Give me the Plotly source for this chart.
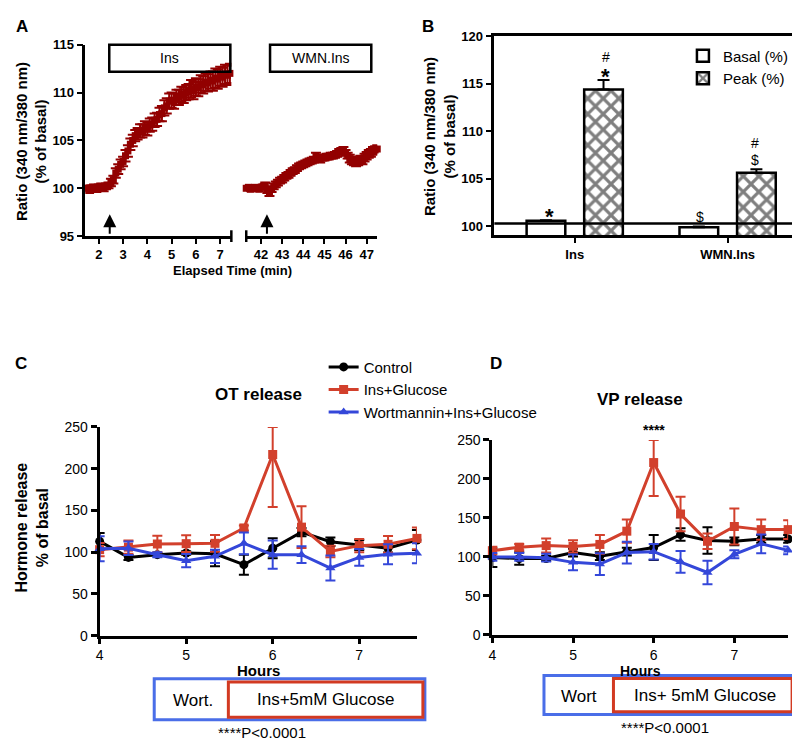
import plotly.graph_objects as go

# ---------------- Panel A: ratio time course ----------------
ins_start, ins_step = 1.5, 0.1
ins_ratio = [100.0, 99.8, 100.0, 100.1, 99.9, 100.1, 100.2, 100.0, 100.2, 100.3,
             100.6, 100.9, 101.6, 102.0, 102.5, 102.8, 103.4, 103.9, 104.6, 105.0,
             105.5, 105.7, 106.0, 106.0, 106.3, 106.2, 106.6, 106.7, 107.1, 107.2,
             107.7, 107.8, 108.4, 108.6, 109.1, 109.2, 109.1, 109.5, 109.5, 109.8,
             109.7, 110.0, 110.1, 110.4, 110.2, 110.6, 110.5, 110.9, 110.8, 111.1,
             111.0, 111.3, 111.2, 111.5, 111.4, 111.7, 111.6, 111.9, 111.8, 112.0]
ins_sem = [0.3, 0.3, 0.3, 0.3, 0.3, 0.3, 0.3, 0.3, 0.3, 0.3,
           0.4, 0.4, 0.5, 0.5, 0.5, 0.5, 0.6, 0.6, 0.6, 0.6,
           0.6, 0.6, 0.7, 0.7, 0.7, 0.7, 0.7, 0.7, 0.7, 0.7,
           0.7, 0.8, 0.8, 0.8, 0.8, 0.8, 0.8, 0.8, 0.8, 0.8,
           0.8, 0.8, 0.8, 0.9, 0.9, 0.9, 0.9, 0.9, 0.9, 0.9,
           0.9, 0.9, 1.0, 1.0, 1.0, 1.0, 1.0, 1.0, 1.0, 1.0]
wmn_start, wmn_step = 41.3, 0.1
wmn_ratio = [100.0, 100.1, 99.9, 100.0, 100.1, 100.0, 99.9, 100.1, 100.2,
             100.3, 99.8, 99.6, 99.9, 100.2, 100.4, 100.6, 100.8, 100.9, 101.1,
             101.3, 101.4, 101.6, 101.8, 101.9, 102.1, 102.3, 102.4, 102.5, 102.6,
             102.7, 102.8, 102.9, 103.0, 103.4, 103.1, 103.0, 103.2, 103.2, 103.3,
             103.3, 103.4, 103.4, 103.5, 103.6, 103.8, 103.9, 104.0, 103.7, 103.4,
             103.1, 102.9, 102.8, 102.7, 102.8, 103.0, 102.9, 103.2, 103.4, 103.6,
             103.7, 103.9, 104.0, 104.1]
wmn_sem = [0.2, 0.2, 0.2, 0.2, 0.2, 0.2, 0.2, 0.2, 0.2,
           0.3, 0.3, 0.4, 0.3, 0.3, 0.3, 0.3, 0.3, 0.3, 0.3,
           0.3, 0.3, 0.3, 0.3, 0.3, 0.3, 0.3, 0.3, 0.3, 0.3,
           0.3, 0.3, 0.3, 0.3, 0.3, 0.3, 0.3, 0.3, 0.3, 0.3,
           0.3, 0.3, 0.3, 0.3, 0.3, 0.3, 0.3, 0.3, 0.3, 0.3,
           0.4, 0.4, 0.4, 0.4, 0.4, 0.4, 0.4, 0.4, 0.4, 0.4,
           0.4, 0.4, 0.4, 0.4]
a_left_ticks = [2, 3, 4, 5, 6, 7]
a_right_ticks = [42, 43, 44, 45, 46, 47]
a_y_ticks = [95, 100, 105, 110, 115]

# ---------------- Panel B: bars ----------------
b_groups = ["Ins", "WMN.Ins"]
b_basal = [100.6, 99.9]
b_basal_err = [0.05, 0.08]
b_peak = [114.4, 105.65]
b_peak_err = [1.0, 0.35]
b_y_ticks = [100, 105, 110, 115, 120]

# ---------------- Panels C / D: hormone release ----------------
hours = [4.0, 4.333, 4.667, 5.0, 5.333, 5.667, 6.0, 6.333, 6.667, 7.0, 7.333, 7.667]
ot_control = [113.0, 93.7, 97.0, 99.0, 98.0, 85.0, 104.7, 124.0, 112.5, 108.6, 104.7, 114.5]
ot_control_sem = [10, 3, 2, 2, 15, 12, 12, 5, 5, 6, 5, 12]
ot_ins = [103.0, 106.0, 109.8, 110.2, 110.6, 129.0, 217.0, 130.0, 100.8, 107.8, 109.4, 116.5]
ot_ins_sem = [8, 8, 10, 10, 10, 3, 63, 25, 7, 8, 10, 13]
ot_wort = [104.0, 104.7, 97.0, 89.8, 95.0, 110.6, 97.0, 97.0, 81.0, 93.7, 97.6, 98.8]
ot_wort_sem = [15, 8, 3, 8, 8, 13, 17, 10, 15, 10, 12, 12]

vp_control = [99.2, 98.0, 98.0, 105.5, 101.0, 106.7, 112.0, 128.6, 121.0, 120.0, 123.0, 123.0]
vp_control_sem = [12, 8, 3, 5, 5, 5, 16, 8, 17, 5, 5, 5]
vp_ins = [108.0, 112.5, 114.5, 113.5, 116.0, 133.0, 221.0, 155.0, 120.0, 139.0, 135.0, 135.0]
vp_ins_sem = [5, 4, 9, 8, 12, 15, 43, 22, 10, 23, 13, 12]
vp_wort = [100.0, 100.0, 99.0, 93.0, 90.8, 105.5, 106.7, 93.7, 80.0, 103.4, 116.8, 108.4]
vp_wort_sem = [5, 5, 5, 10, 14, 14, 10, 14, 15, 5, 12, 5]
cd_x_ticks = [4, 5, 6, 7]
cd_y_ticks = [0, 50, 100, 150, 200, 250]
cd_ymax = 250

W, H = 800, 742
def px(x):
    return x / W
def py(y):
    return 1 - y / H

DARKRED = "#920000"
RED = "#d2402c"
BLUE = "#3447d9"
BOX_BLUE = "#4a6ee8"
BOX_RED = "#d23a22"
FONT = "Liberation Sans, Arial, sans-serif"
NARROW = "Liberation Sans Narrow, Arial Narrow, Liberation Sans, Arial, sans-serif"

fig = go.Figure()

ins_time = [round(ins_start + ins_step * i, 2) for i in range(len(ins_ratio))]
wmn_time = [round(wmn_start + wmn_step * i, 2) for i in range(len(wmn_ratio))]

for t, v, e, xa in [(ins_time, ins_ratio, ins_sem, "x"), (wmn_time, wmn_ratio, wmn_sem, "x2")]:
    fig.add_trace(go.Scatter(
        x=t, y=v, mode="lines+markers", xaxis=xa, yaxis="y",
        line=dict(color=DARKRED, width=3),
        marker=dict(symbol="square", size=7, color=DARKRED),
        error_y=dict(type="data", array=e, color=DARKRED, thickness=2, width=5),
        showlegend=False, cliponaxis=False))

# Panel B bars
fig.add_trace(go.Bar(
    x=[0, 1], y=b_basal, width=0.253, offset=-0.315, xaxis="x3", yaxis="y3",
    name="Basal (%)", legend="legend2",
    marker=dict(color="white", line=dict(color="black", width=2.5)),
    error_y=dict(type="data", array=b_basal_err, arrayminus=[0, 0], symmetric=False,
                 color="black", thickness=2, width=6)))
fig.add_trace(go.Bar(
    x=[0, 1], y=b_peak, width=0.253, offset=0.0615, xaxis="x3", yaxis="y3",
    name="Peak (%)", legend="legend2",
    marker=dict(color="white", line=dict(color="black", width=2.5),
                pattern=dict(shape="x", fgcolor="black", bgcolor="white", size=11, solidity=0.5)),
    error_y=dict(type="data", array=b_peak_err, arrayminus=[0, 0], symmetric=False,
                 color="black", thickness=2, width=6)))

def clip_err(vals, errs):
    return [min(e, cd_ymax - v) for v, e in zip(vals, errs)]

series_c = [("Control", ot_control, ot_control_sem, "black", "circle"),
            ("Ins+Glucose", ot_ins, ot_ins_sem, RED, "square"),
            ("Wortmannin+Ins+Glucose", ot_wort, ot_wort_sem, BLUE, "triangle-up")]
series_d = [("Control", vp_control, vp_control_sem, "black", "circle"),
            ("Ins+Glucose", vp_ins, vp_ins_sem, RED, "square"),
            ("Wortmannin+Ins+Glucose", vp_wort, vp_wort_sem, BLUE, "triangle-up")]
for series, xa, ya, show in [(series_c, "x4", "y4", True), (series_d, "x5", "y5", False)]:
    for name, vals, errs, col, sym in series:
        fig.add_trace(go.Scatter(
            x=hours, y=vals, mode="lines+markers", name=name, xaxis=xa, yaxis=ya,
            line=dict(color=col, width=3), marker=dict(symbol=sym, size=9, color=col),
            error_y=dict(type="data", symmetric=False, array=clip_err(vals, errs),
                         arrayminus=errs, color=col, thickness=2, width=5),
            showlegend=show, legend="legend", cliponaxis=False))

tick_bold = dict(family=FONT, size=13, color="black", weight="bold")
tick_narrow = dict(family=NARROW, size=14, color="black")
common = dict(showgrid=False, zeroline=False, showline=True, linecolor="black",
              ticks="outside", tickcolor="black")

fig.update_layout(
    width=W, height=H, margin=dict(l=0, r=0, t=0, b=0),
    paper_bgcolor="white", plot_bgcolor="rgba(0,0,0,0)",
    font=dict(family=FONT, color="black"), barmode="overlay",
    xaxis=dict(domain=[px(74), px(221)], range=[1.45, 7.46], anchor="y",
               tickvals=a_left_ticks, tickfont=tick_bold, linewidth=2.5, tickwidth=2, ticklen=5, **common),
    xaxis2=dict(domain=[px(236), px(368)], range=[41.3, 47.5], anchor="y",
                tickvals=a_right_ticks, tickfont=tick_bold, linewidth=2.5, tickwidth=2, ticklen=5, **common),
    yaxis=dict(domain=[py(225), py(29.3)], range=[95, 115], anchor="x",
               tickvals=a_y_ticks, tickfont=tick_bold, linewidth=2.5, tickwidth=2, ticklen=6, **common),
    xaxis3=dict(domain=[px(486), px(799)], range=[-0.526, 1.506], anchor="y3",
                tickvals=[0, 1], ticktext=b_groups, tickfont=tick_bold, mirror=True,
                linewidth=2.5, tickwidth=2, ticklen=5, **common),
    yaxis3=dict(domain=[py(224), py(20.7)], range=[99.07, 120], anchor="x3",
                tickvals=b_y_ticks, tickfont=tick_bold, mirror=True,
                linewidth=2.5, tickwidth=2, ticklen=6, **common),
    xaxis4=dict(domain=[px(88.3), px(408)], range=[4, 7.667], anchor="y4",
                tickvals=cd_x_ticks, tickfont=tick_narrow, linewidth=3, tickwidth=2.5, ticklen=5, **common),
    yaxis4=dict(domain=[py(633.3), py(420)], range=[0, 250], anchor="x4",
                tickvals=cd_y_ticks, tickfont=tick_narrow, linewidth=3, tickwidth=2.5, ticklen=6, **common),
    xaxis5=dict(domain=[px(484), px(782)], range=[4, 7.667], anchor="y5",
                tickvals=cd_x_ticks, tickfont=tick_narrow, linewidth=3, tickwidth=2.5, ticklen=5, **common),
    yaxis5=dict(domain=[py(632.5), py(433.3)], range=[0, 250], anchor="x5",
                tickvals=cd_y_ticks, tickfont=tick_narrow, linewidth=3, tickwidth=2.5, ticklen=6, **common),
    legend=dict(x=px(314), y=py(342), xanchor="left", yanchor="top",
                font=dict(family=FONT, size=15, color="black"), bgcolor="rgba(0,0,0,0)",
                tracegroupgap=0, itemwidth=30),
    legend2=dict(x=px(676), y=py(24), xanchor="left", yanchor="top",
                 font=dict(family=FONT, size=15, color="black"), bgcolor="rgba(0,0,0,0)",
                 tracegroupgap=0, itemwidth=30),
)

shapes = []
def rect(x0, y0, x1, y1, color, width):
    shapes.append(dict(type="rect", xref="paper", yref="paper", x0=px(x0), x1=px(x1),
                       y0=py(y1), y1=py(y0), line=dict(color=color, width=width),
                       fillcolor="rgba(0,0,0,0)"))
def vline(x, y0, y1, color="black", width=2.5):
    shapes.append(dict(type="line", xref="paper", yref="paper", x0=px(x), x1=px(x),
                       y0=py(y0), y1=py(y1), line=dict(color=color, width=width)))

rect(98, 29.5, 220, 57, "black", 2.5)
rect(260, 29.5, 362, 57, "black", 2.5)
vline(221, 219, 231)
vline(236, 219, 231)
shapes.append(dict(type="line", xref="x3 domain", yref="y3", x0=0, x1=1, y0=100.3, y1=100.3,
                   line=dict(color="black", width=2.5)))
rect(143.3, 677.3, 416, 719.3, BOX_BLUE, 3)
rect(218, 680.7, 414, 716.7, BOX_RED, 3)
rect(536, 674, 788, 714, BOX_BLUE, 3)
rect(606, 677, 786, 711, BOX_RED, 3)
fig.update_layout(shapes=shapes)

ann = []
def text(x, y, s, size, family=FONT, angle=0, **kw):
    ann.append(dict(x=px(x), y=py(y), xref="paper", yref="paper", text=s, showarrow=False,
                    textangle=angle, font=dict(family=family, size=size, color="black"),
                    xanchor="center", yanchor="middle", **kw))

text(10, 11, "<b>A</b>", 17)
text(419, 11, "<b>B</b>", 17)
text(9, 355, "<b>C</b>", 17)
text(488, 355, "<b>D</b>", 17)
text(19, 128, "<b>Ratio (340 nm/380 nm)<br>(% of basal)</b>", 15, angle=-90)
text(431, 123, "<b>Ratio (340 nm/380 nm)<br>(% of basal)</b>", 15, angle=-90)
text(20, 523, "<b>Hormone release<br>% of basal</b>", 16, angle=-90)
text(222, 260, "<b>Elapsed Time (min)</b>", 13)
text(159, 43, "Ins", 14)
text(311, 43, "WMN.Ins", 14)
text(248, 387, "<b>OT release</b>", 17)
text(633, 392, "<b>VP release</b>", 17)
text(248, 669, "<b>Hours</b>", 15, family=NARROW)
text(633, 669, "<b>Hours</b>", 14, family=NARROW)
text(182, 700, "Wort.", 17, family=NARROW)
text(316, 699, "Ins+5mM Glucose", 17, family=NARROW)
text(571, 696, "Wort", 17, family=NARROW)
text(698, 694, "Ins+ 5mM Glucose", 17, family=NARROW)
text(252, 732, "****P<0.0001", 15, family=NARROW)
text(658, 727, "****P<0.0001", 15, family=NARROW)
# significance marks
ann.append(dict(x=6, y=252, xref="x4", yref="y4", text="****", showarrow=False,
                font=dict(family=FONT, size=14, color="black"), yanchor="bottom"))
ann.append(dict(x=6, y=250, xref="x5", yref="y5", text="<b>****</b>", showarrow=False,
                font=dict(family=FONT, size=14, color="black"), yanchor="bottom"))
text(542, 205, "<b>*</b>", 22)
text(598, 62, "<b>*</b>", 22)
text(598, 42, "#", 14)
text(693, 205, "$", 14)
text(749, 147, "$", 14)
text(749, 130, "#", 14)
# stimulus arrows
for xv, xr in [(2.45, "x"), (42.28, "x2")]:
    ann.append(dict(x=xv, y=97.3, xref=xr, yref="y", ax=0, ay=21, axref="pixel", ayref="pixel",
                    text="", showarrow=True, arrowhead=2, arrowsize=1.3, arrowwidth=2,
                    arrowcolor="black"))
fig.update_layout(annotations=ann)

fig.write_html("out.html")
